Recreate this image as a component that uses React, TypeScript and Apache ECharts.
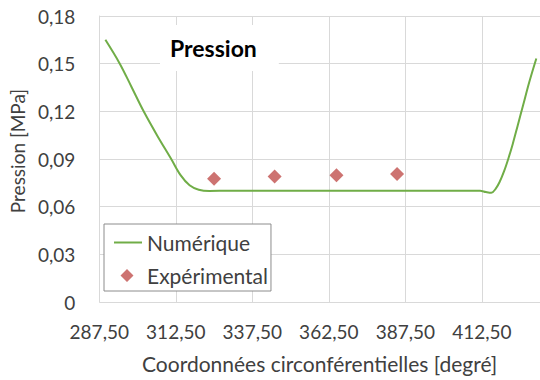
import React, { useEffect, useRef } from "react";
import * as echarts from "echarts";

const numAngle = [289.5, 294.2, 298, 302, 306.5, 311, 314, 317, 320, 323.5, 330, 345, 360, 375, 390, 405, 411.9, 413.8, 415.6, 417, 418.3, 419.8, 421.2, 422.6, 424.2, 426, 428, 430.3];
const numPressure = [0.165, 0.15, 0.1355, 0.12, 0.1045, 0.09, 0.08, 0.0735, 0.0707, 0.0699, 0.07, 0.07, 0.07, 0.07, 0.07, 0.07, 0.07, 0.0692, 0.0687, 0.0712, 0.0755, 0.0825, 0.0905, 0.0995, 0.111, 0.124, 0.1385, 0.1533];

const expAngle = [325, 344.8, 365, 384.8];
const expPressure = [0.0776, 0.079, 0.0798, 0.0805];

const xMin = 287.5;
const xMax = 431.5;
const xStep = 25;
const yMin = 0;
const yMax = 0.18;
const yStep = 0.03;

const FONT = "Lato";
const TXT = "#404040";
const DIAMOND_ICON = "path://M0,6.5L0,6.5Z M28,6.5L28,6.5Z M13,0L19.5,6.5L13,13L6.5,6.5Z";

export default function App() {
  const ref = useRef<HTMLDivElement>(null);
  useEffect(() => {
    if (!ref.current) return;
    const chart = echarts.init(ref.current, null, { renderer: "svg" });
    const fmt = (v: number) => (Math.abs(v) < 1e-9 ? "0" : v.toFixed(2).replace(".", ","));
    chart.setOption({
      animation: false,
      backgroundColor: "#ffffff",
      textStyle: { fontFamily: FONT, color: TXT },
      title: {
        text: "Pression",
        left: 160,
        top: 25,
        backgroundColor: "#ffffff",
        padding: [8, 22, 8, 10],
        textStyle: { fontFamily: FONT, fontSize: 23, fontWeight: "bold", color: "#000000", lineHeight: 30 },
      },
      grid: { left: 97, top: 16, right: 0, bottom: 78 },
      legend: {
        orient: "vertical",
        left: 104,
        top: 224,
        padding: [8, 3, 5, 9],
        itemGap: 12,
        itemWidth: 28,
        itemHeight: 13,
        backgroundColor: "#ffffff",
        borderColor: "#8c8c8c",
        borderWidth: 1,
        borderRadius: 0,
        textStyle: { fontFamily: FONT, fontSize: 21, color: TXT },
        data: [
          { name: "Numérique", itemStyle: { opacity: 0 } },
          { name: "Expérimental", icon: DIAMOND_ICON },
        ],
      },
      xAxis: {
        type: "value",
        min: xMin,
        max: xMax,
        interval: xStep,
        name: "Coordonnées circonférentielles [degré]",
        nameLocation: "middle",
        nameGap: 51,
        nameTextStyle: { fontFamily: FONT, fontSize: 21, color: TXT },
        axisLine: { show: false },
        axisTick: { show: false },
        axisLabel: { fontFamily: FONT, fontSize: 19, color: TXT, margin: 20, showMaxLabel: false, formatter: fmt },
        splitLine: { show: true, lineStyle: { color: "#d9d9d9", width: 1 } },
      },
      yAxis: {
        type: "value",
        min: yMin,
        max: yMax,
        interval: yStep,
        name: "Pression [MPa]",
        nameLocation: "middle",
        nameGap: 64,
        nameTextStyle: { fontFamily: FONT, fontSize: 19, color: TXT, padding: [0, 0, 0, 16] },
        axisLine: { show: true, lineStyle: { color: "#d9d9d9", width: 1 } },
        axisTick: { show: false },
        axisLabel: { fontFamily: FONT, fontSize: 19, color: TXT, margin: 24, formatter: fmt },
        splitLine: { show: true, lineStyle: { color: "#d9d9d9", width: 1 } },
      },
      series: [
        {
          name: "Numérique",
          type: "line",
          data: numAngle.map((a, i) => [a, numPressure[i]]),
          symbol: "none",
          smooth: 0.35,
          lineStyle: { color: "#70ad47", width: 2 },
          itemStyle: { color: "#70ad47" },
        },
        {
          name: "Expérimental",
          type: "scatter",
          data: expAngle.map((a, i) => [a, expPressure[i]]),
          symbol: "diamond",
          symbolSize: 14,
          itemStyle: { color: "#c0504d" },
        },
      ],
    });
    return () => chart.dispose();
  }, []);
  return <div ref={ref} style={{ position: "fixed", left: 0, top: 0, width: 540, height: 380 }} />;
}
